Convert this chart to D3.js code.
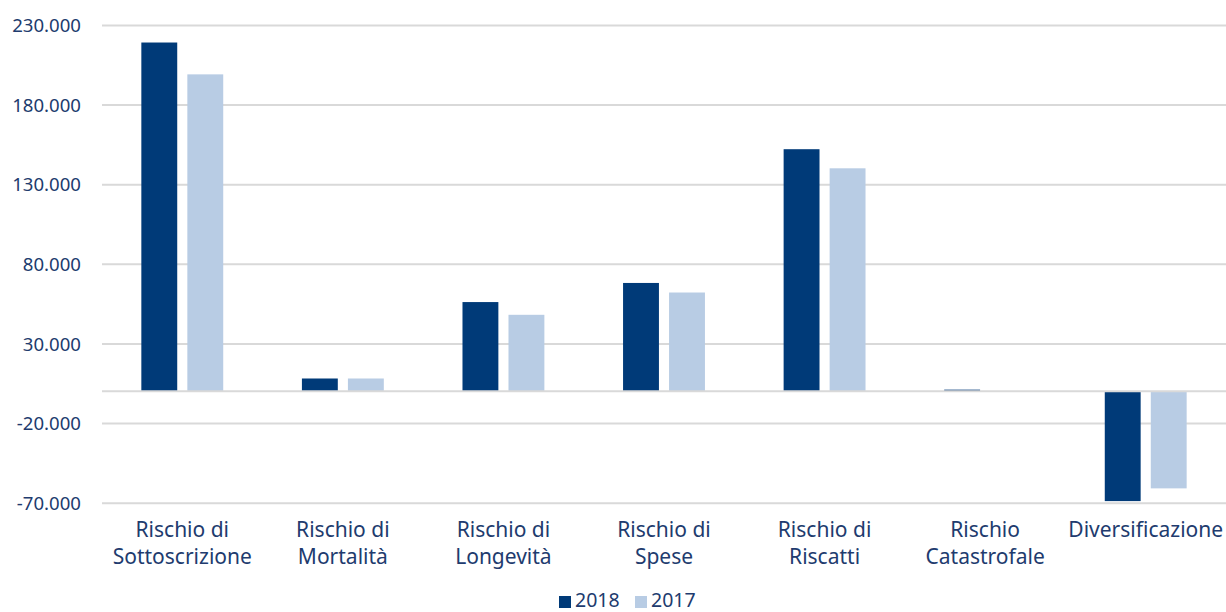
<!DOCTYPE html>
<html>
<head>
<meta charset="utf-8">
<script src="https://cdn.jsdelivr.net/npm/d3@7"></script>
<style>
  html, body { margin: 0; padding: 0; background: #fff; }
  svg { display: block; }
  text { font-family: "Noto Sans", "DejaVu Sans", sans-serif; fill: #213B6E; }
</style>
</head>
<body>
<svg id="chart" width="1226" height="612"></svg>
<script>
// Requisiti di capitale per sottomodulo di rischio (euro)
const categories = [
  ["Rischio di", "Sottoscrizione"],
  ["Rischio di", "Mortalità"],
  ["Rischio di", "Longevità"],
  ["Rischio di", "Spese"],
  ["Rischio di", "Riscatti"],
  ["Rischio", "Catastrofale"],
  ["Diversificazione"]
];
const seriesNames = ["2018", "2017"];
const values2018 = [219000, 8000, 56000, 68000, 152000, 1000, -69000];
const values2017 = [199000, 8000, 48000, 62000, 140000, 0, -61000];
const tickValues = [-70000, -20000, 30000, 80000, 130000, 180000, 230000];
const colors = ["#003A78", "#B8CCE4"];

const svg = d3.select("#chart");
const mLeft = 102, mRight = 1226, mTop = 25, mBottom = 502.7;

const catKeys = categories.map(c => c.join(" "));
const seriesValues = [values2018, values2017];
const rows = catKeys.map((k, i) => ({
  key: k,
  lines: categories[i],
  vals: seriesNames.map((s, j) => ({ series: s, value: seriesValues[j][i], color: colors[j] }))
}));

const x0 = d3.scaleBand().domain(catKeys).range([mLeft, mRight])
  .paddingInner(0.49).paddingOuter(0.245);
const x1 = d3.scaleBand().domain(seriesNames).range([0, x0.bandwidth()]).paddingInner(0.22);
const y = d3.scaleLinear().domain([-70000, 230000]).range([mBottom, mTop]);

const it = d3.formatLocale({ decimal: ",", thousands: ".", grouping: [3], currency: ["€", ""], minus: "-" });
const fmt = it.format(",.0f");

// griglia orizzontale ed etichette asse Y
const yAxis = d3.axisLeft(y).tickValues(tickValues).tickFormat(fmt)
  .tickSize(-(mRight - mLeft)).tickPadding(21);
const gy = svg.append("g").attr("transform", `translate(${mLeft},0)`).call(yAxis);
gy.select(".domain").remove();
gy.selectAll(".tick line").attr("stroke", "#D9D9D9").attr("stroke-width", 2);
gy.selectAll(".tick text").attr("font-size", 18.6).attr("dy", "0.36em")
  .style("font-family", "'Noto Sans', sans-serif").attr("fill", "#213B6E");

// barre
const groups = svg.append("g").selectAll("g").data(rows).join("g")
  .attr("transform", d => `translate(${x0(d.key)},0)`);
groups.selectAll("rect").data(d => d.vals).join("rect")
  .attr("x", d => x1(d.series))
  .attr("width", x1.bandwidth())
  .attr("y", d => y(Math.max(0, d.value)))
  .attr("height", d => Math.abs(y(d.value) - y(0)))
  .attr("fill", d => d.color);

// linea dello zero
svg.append("line")
  .attr("x1", mLeft).attr("x2", mRight)
  .attr("y1", y(0)).attr("y2", y(0))
  .attr("stroke", "#D9D9D9").attr("stroke-width", 2);

// etichette categorie
const xl = svg.append("g").selectAll("text").data(rows).join("text")
  .attr("text-anchor", "middle")
  .attr("font-size", 21)
  .attr("x", d => x0(d.key) + x0.bandwidth() / 2)
  .attr("y", 537);
xl.selectAll("tspan").data(d => d.lines.map(t => ({ t, cx: x0(d.key) + x0.bandwidth() / 2 })))
  .join("tspan")
  .attr("x", d => d.cx)
  .attr("dy", (d, i) => i === 0 ? 0 : 27)
  .text(d => d.t);

// legenda
const legend = svg.append("g");
const legX = [559, 635];
seriesNames.forEach((s, i) => {
  legend.append("rect").attr("x", legX[i]).attr("y", 596).attr("width", 12).attr("height", 12)
    .attr("fill", colors[i]);
  legend.append("text").attr("x", legX[i] + 16).attr("y", 607).attr("font-size", 19.5).text(s);
});
</script>
</body>
</html>
